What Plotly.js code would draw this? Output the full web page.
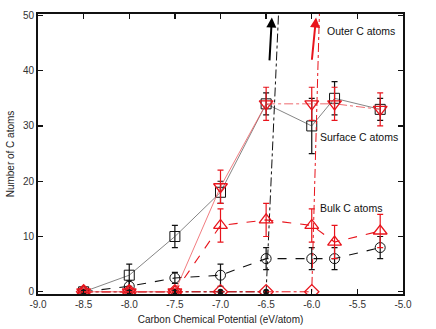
<!DOCTYPE html>
<html>
<head>
<meta charset="utf-8">
<script src="https://cdn.plot.ly/plotly-3.0.1.min.js"></script>
<style>html,body{margin:0;padding:0;background:#fff;}#chart{width:436px;height:329px;}</style>
</head>
<body>
<div id="chart"></div>
<script>
// Carbon chemical potential (eV/atom)
const mu = [-8.5, -8.0, -7.5, -7.0, -6.5, -6.0, -5.75, -5.25];

// Surface C atoms (black squares)
const surface = [0, 3, 10, 18, 34, 30, 35, 33];
const surfaceErr = [0, 2, 2, 2, 2, 5, 3, 2];

// Outer C atoms (red inverted triangles)
const outer = [0, 0, 0, 19, 34, 34, 34, 33];
const outerErr = [0, 0, 0, 3, 3, 3, 3, 3];

// Bulk C atoms (red triangles)
const bulkRed = [0, 0, 0, 12, 13, 12, 9, 11];
const bulkRedErr = [0, 0, 0, 3, 3, 3, 3, 3];

// Bulk C atoms (black circles)
const bulkBlack = [0, 1, 2.5, 3, 6, 6, 6, 8];
const bulkBlackErr = [0, 1, 1, 2, 2, 2, 2, 2];

// Diverging series (black dash-dot, filled circles)
const muDivBlack = [-8.5, -8.0, -7.5, -7.0, -6.5, -6.0];
const divBlack = [0, 0, 0, 0, 0, 185];

// Diverging series (red dash-dot, diamonds)
const muDivRed = [-8.5, -8.0, -7.5, -7.0, -6.5, -6.0, -5.75];
const divRed = [0, 0, 0, 0, 0, 0, 150];

const xTicks = [-9.0, -8.5, -8.0, -7.5, -7.0, -6.5, -6.0, -5.5, -5.0];
const yTicks = [0, 10, 20, 30, 40, 50];

const RED = '#e8141c';
const BLK = '#111111';

function eb(arr, color) {
  return {type: 'data', array: arr, visible: true, color: color, thickness: 1.2, width: 3};
}

const traces = [
  {
    x: muDivBlack, y: divBlack, mode: 'lines+markers', showlegend: false,
    line: {color: BLK, width: 1, dash: 'dashdot'},
    marker: {symbol: 'circle', size: 6, color: BLK}
  },
  {
    x: mu, y: bulkBlack, mode: 'lines+markers', showlegend: false,
    line: {color: BLK, width: 1.1, dash: 'dash'},
    marker: {symbol: 'circle-open', size: 10, color: BLK, line: {width: 1}},
    error_y: eb(bulkBlackErr, BLK)
  },
  {
    x: mu, y: surface, mode: 'lines+markers', showlegend: false,
    line: {color: '#333', width: 0.6},
    marker: {symbol: 'square-open', size: 10, color: BLK, line: {width: 1}},
    error_y: eb(surfaceErr, BLK)
  },
  {
    x: muDivRed, y: divRed, mode: 'lines+markers', showlegend: false,
    line: {color: RED, width: 1, dash: 'dashdot'},
    marker: {symbol: 'diamond-open', size: 11, color: RED, line: {width: 1.3}}
  },
  {
    x: mu, y: bulkRed, mode: 'lines+markers', showlegend: false,
    line: {color: RED, width: 1.1, dash: 'dash'},
    marker: {symbol: 'triangle-up-open', size: 12, color: RED, line: {width: 1.3}},
    error_y: eb(bulkRedErr, RED)
  },
  {
    x: mu.slice(0, 5), y: outer.slice(0, 5), mode: 'lines', showlegend: false,
    line: {color: '#ee5a5f', width: 0.8}
  },
  {
    x: mu.slice(4), y: outer.slice(4), mode: 'lines', showlegend: false,
    line: {color: '#ee6a6f', width: 1, dash: 'dashdot'}
  },
  {
    x: mu, y: outer, mode: 'markers', showlegend: false,
    marker: {symbol: 'triangle-down-open', size: 12, color: RED, line: {width: 1.3}},
    error_y: eb(outerErr, RED)
  }
];

const font = {family: 'Liberation Sans, Arial, sans-serif', size: 10, color: '#222'};

const layout = {
  width: 436, height: 329,
  margin: {l: 37.5, r: 33, t: 14, b: 35},
  paper_bgcolor: '#fff', plot_bgcolor: '#fff',
  font: font,
  showlegend: false,
  xaxis: {
    range: [-9, -5], tickmode: 'array', tickvals: xTicks,
    ticktext: xTicks.map(v => v.toFixed(1)),
    ticks: 'inside', ticklen: 5, tickwidth: 1.4, tickcolor: '#111',
    showline: true, linewidth: 2, linecolor: '#111', mirror: 'ticks',
    showgrid: false, zeroline: false,
    tickfont: {family: font.family, size: 10, color: '#333'},
    title: {text: 'Carbon Chemical Potential (eV/atom)', font: {family: font.family, size: 10, color: '#222'}, standoff: 7}
  },
  yaxis: {
    range: [-0.4, 50.25], tickmode: 'array', tickvals: yTicks,
    ticks: 'inside', ticklen: 5, tickwidth: 1.4, tickcolor: '#111',
    showline: true, linewidth: 2, linecolor: '#111', mirror: 'ticks',
    showgrid: false, zeroline: false,
    tickfont: {family: font.family, size: 10, color: '#333'},
    title: {text: 'Number of C atoms', font: {family: font.family, size: 10, color: '#222'}, standoff: 6}
  },
  annotations: [
    {x: -5.46, y: 47.2, xref: 'x', yref: 'y', text: 'Outer C atoms', showarrow: false, font: {family: font.family, size: 10.5, color: '#111'}},
    {x: -5.48, y: 28, xref: 'x', yref: 'y', text: 'Surface C atoms', showarrow: false, font: {family: font.family, size: 10.5, color: '#111'}},
    {x: -5.575, y: 15.1, xref: 'x', yref: 'y', text: 'Bulk C atoms', showarrow: false, font: {family: font.family, size: 10.5, color: '#111'}},
    {x: -6.437, y: 49.6, ax: -6.464, ay: 41.6, xref: 'x', yref: 'y', axref: 'x', ayref: 'y', text: '', showarrow: true, arrowhead: 2, arrowsize: 1, arrowwidth: 2, arrowcolor: '#000'},
    {x: -5.953, y: 49.6, ax: -6.0, ay: 41.7, xref: 'x', yref: 'y', axref: 'x', ayref: 'y', text: '', showarrow: true, arrowhead: 2, arrowsize: 1, arrowwidth: 2, arrowcolor: RED}
  ]
};

Plotly.newPlot('chart', traces, layout, {displayModeBar: false, staticPlot: true});
</script>
</body>
</html>
